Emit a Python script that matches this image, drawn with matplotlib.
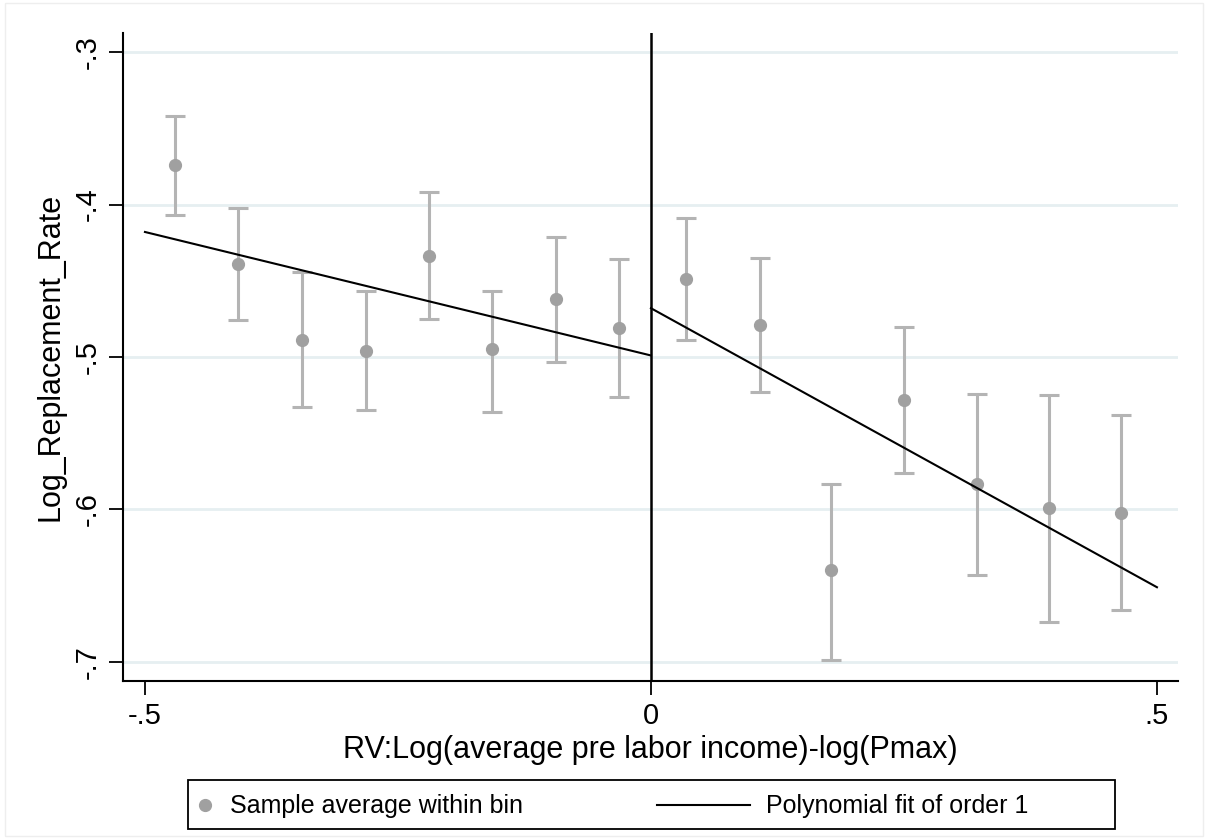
import matplotlib
matplotlib.use("Agg")
import matplotlib.pyplot as plt
from matplotlib.lines import Line2D
from matplotlib.patches import Rectangle

plt.rcParams['font.family'] = ['Liberation Sans', 'DejaVu Sans']

# bin averages and confidence intervals
bin_x = [-0.470, -0.408, -0.345, -0.282, -0.219, -0.157, -0.094, -0.032,
         0.035, 0.108, 0.178, 0.250, 0.322, 0.393, 0.464]
bin_y = [-0.374, -0.439, -0.489, -0.496, -0.434, -0.495, -0.462, -0.481,
         -0.449, -0.479, -0.640, -0.528, -0.583, -0.599, -0.602]
ci_low = [-0.407, -0.476, -0.533, -0.535, -0.475, -0.536, -0.503, -0.526,
          -0.489, -0.523, -0.699, -0.576, -0.643, -0.674, -0.666]
ci_high = [-0.342, -0.402, -0.444, -0.457, -0.392, -0.457, -0.421, -0.436,
           -0.409, -0.435, -0.583, -0.480, -0.524, -0.525, -0.538]

# linear fits on each side of the cutoff
fit_left_x = [-0.5, 0.0]
fit_left_y = [-0.418, -0.499]
fit_right_x = [0.0, 0.5]
fit_right_y = [-0.468, -0.651]

xticks = [-0.5, 0, 0.5]
xtick_labels = ['-.5', '0', '.5']
yticks = [-0.3, -0.4, -0.5, -0.6, -0.7]
ytick_labels = ['-.3', '-.4', '-.5', '-.6', '-.7']
legend_labels = ['Sample average within bin', 'Polynomial fit of order 1']

W, H = 1208, 839
fig = plt.figure(figsize=(W / 100, H / 100), dpi=100)
ax = fig.add_axes([123 / W, 1 - 681 / H, (1178 - 123) / W, (681 - 33) / H])

def px(x, y):
    # pixel position (from top-left) to figure fraction
    return x / W, 1 - y / H

# faint outer frame like the Stata graph region
fig.patches.append(Rectangle((0.004, 0.004), 0.992, 0.992, transform=fig.transFigure,
                             fill=False, edgecolor='#eeeeee', linewidth=1))

for yt in yticks:
    ax.axhline(yt, color='#e6eff1', linewidth=2, zorder=0)

yerr = [[y - lo for y, lo in zip(bin_y, ci_low)], [hi - y for y, hi in zip(bin_y, ci_high)]]
ax.errorbar(bin_x, bin_y, yerr=yerr, fmt='none', ecolor='#b4b4b4', elinewidth=2.2,
            capsize=7, capthick=2.2, zorder=2)
ax.plot(bin_x, bin_y, 'o', color='#a0a0a0', markersize=8.5, zorder=3)

ax.plot(fit_left_x, fit_left_y, color='black', linewidth=1.5, zorder=4)
ax.plot(fit_right_x, fit_right_y, color='black', linewidth=1.5, zorder=4)
ax.axvline(0, color='black', linewidth=1.8, zorder=4)

ax.set_xlim(-0.5217, 0.5208)
ax.set_ylim(-0.7125, -0.2875)
ax.set_xticks(xticks)
ax.set_xticklabels(xtick_labels)
ax.set_yticks(yticks)
ax.set_yticklabels(ytick_labels, rotation=90, va='center')
ax.tick_params(axis='both', direction='out', length=10, width=1.3, labelsize=21, pad=5)

for s in ['top', 'right']:
    ax.spines[s].set_visible(False)
for s in ['left', 'bottom']:
    ax.spines[s].set_linewidth(1.5)

ax.set_xlabel('RV:Log(average pre labor income)-log(Pmax)', fontsize=22, labelpad=4)
ax.set_ylabel('Log_Replacement_Rate', fontsize=22, labelpad=6)

# legend box drawn by hand to match Stata's layout
x0, y0 = px(188, 829)
x1, y1 = px(1115, 780)
fig.patches.append(Rectangle((x0, y0), x1 - x0, y1 - y0, transform=fig.transFigure,
                             fill=False, edgecolor='black', linewidth=1.3))
mx, my = px(205, 805)
fig.lines.append(Line2D([mx], [my], marker='o', linestyle='none', color='#a0a0a0',
                        markersize=8.5, transform=fig.transFigure))
tx, ty = px(230, 806)
fig.text(tx, ty, legend_labels[0], fontsize=18, va='center', ha='left')
lx0, ly = px(657, 805)
lx1, _ = px(750, 805)
fig.lines.append(Line2D([lx0, lx1], [ly, ly], color='black', linewidth=1.5,
                        transform=fig.transFigure))
tx2, _ = px(766, 806)
fig.text(tx2, ty, legend_labels[1], fontsize=18, va='center', ha='left')

fig.savefig('out.png', dpi=100)
